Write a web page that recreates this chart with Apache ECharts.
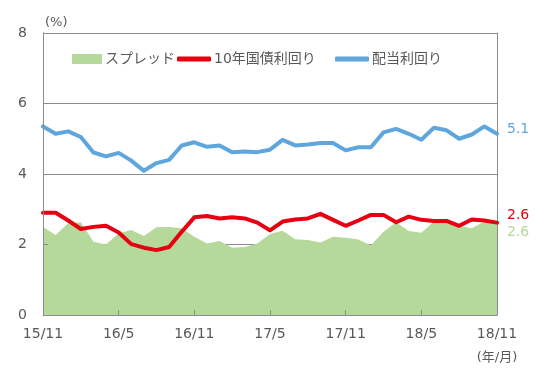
<!DOCTYPE html>
<html><head><meta charset="utf-8">
<script src="https://cdn.jsdelivr.net/npm/echarts@6/dist/echarts.min.js"></script>
<style>html,body{margin:0;padding:0;background:#fff}#c{width:544px;height:376px}</style>
</head><body><div id="c"></div>
<script>
var categories = ['15/11','15/12','16/1','16/2','16/3','16/4','16/5','16/6','16/7','16/8','16/9','16/10',
  '16/11','16/12','17/1','17/2','17/3','17/4','17/5','17/6','17/7','17/8','17/9','17/10',
  '17/11','17/12','18/1','18/2','18/3','18/4','18/5','18/6','18/7','18/8','18/9','18/10','18/11'];
var spread = [2.50,2.27,2.60,2.63,2.08,2.00,2.32,2.41,2.24,2.49,2.50,2.46,2.22,2.03,2.10,1.91,1.93,2.03,2.30,2.39,2.15,2.13,2.06,2.22,2.19,2.14,1.98,2.36,2.63,2.38,2.33,2.65,2.65,2.53,2.46,2.65,2.58];
var jgb10y = [2.90,2.90,2.68,2.44,2.50,2.53,2.34,2.01,1.91,1.84,1.93,2.36,2.77,2.81,2.74,2.77,2.74,2.62,2.40,2.65,2.71,2.74,2.87,2.70,2.53,2.68,2.84,2.84,2.63,2.79,2.70,2.67,2.67,2.53,2.71,2.68,2.62];
var dividend = [5.35,5.14,5.21,5.05,4.61,4.50,4.60,4.38,4.09,4.31,4.40,4.81,4.90,4.77,4.81,4.62,4.64,4.62,4.69,4.97,4.81,4.84,4.88,4.88,4.67,4.76,4.76,5.18,5.28,5.14,4.97,5.31,5.24,5.00,5.12,5.35,5.14];
var yTicks = [0, 2, 4, 6, 8];
var names = ['スプレッド', '10年国債利回り', '配当利回り'];

var FONT = "'DejaVu Sans', 'Noto Sans CJK JP', sans-serif";
var TXT = '#595959';
var GRID = '#8c8c8c';
var C_GREEN = '#b5d89b', C_RED = '#e60012', C_BLUE = '#5fa6dd';

function endLbl(color, dy) {
  return {
    show: true, color: color, fontSize: 14, fontFamily: FONT, distance: 10, offset: [0, dy],
    formatter: function (p) { return Number(p.value).toFixed(1); }
  };
}
function legendAt(left, name, icon, w, h) {
  return {
    left: left, top: 47, itemWidth: w, itemHeight: h, itemGap: 0,
    textStyle: {color: TXT, fontSize: 14, fontFamily: FONT, padding: [0, 0, 0, -2]},
    data: [{name: name, icon: icon}]
  };
}

var chart = echarts.init(document.getElementById('c'), null, {renderer: 'canvas'});
chart.setOption({
  animation: false,
  textStyle: {fontFamily: FONT},
  grid: {left: 43, right: 47, top: 33, bottom: 61, containLabel: false},
  legend: [
    legendAt(67, names[0], 'rect', 30, 10),
    legendAt(172, names[1], 'roundRect', 34, 5),
    legendAt(330, names[2], 'roundRect', 34, 5)
  ],
  xAxis: {
    type: 'category', data: categories, boundaryGap: false, z: 5,
    axisLine: {lineStyle: {color: GRID, width: 1}},
    axisTick: {show: true, inside: true, length: 5, interval: 5, lineStyle: {color: GRID}},
    axisLabel: {interval: 5, color: TXT, fontSize: 14, margin: 12, fontFamily: FONT},
    name: '(年/月)', nameLocation: 'end', nameGap: 0,
    nameTextStyle: {color: TXT, fontSize: 13, fontFamily: FONT, align: 'center', verticalAlign: 'top', padding: [36, 0, 0, 0]}
  },
  yAxis: [{
    type: 'value', min: 0, max: 8, interval: 2, position: 'left',
    axisLine: {show: true, lineStyle: {color: GRID}},
    axisTick: {show: false},
    splitLine: {show: true, lineStyle: {color: GRID, width: 1}},
    axisLabel: {color: TXT, fontSize: 14, margin: 16, fontFamily: FONT,
      customValues: yTicks},
    name: '(%)', nameLocation: 'end', nameGap: 4,
    nameTextStyle: {color: TXT, fontSize: 13, fontFamily: FONT, align: 'left', padding: [0, 0, 0, 2]}
  }, {
    type: 'value', min: 0, max: 8, interval: 2, position: 'right',
    axisLine: {show: true, lineStyle: {color: GRID}},
    axisTick: {show: false}, axisLabel: {show: false}, splitLine: {show: false}
  }, {
    type: 'value', min: 0, max: 8, interval: 2, position: 'left', z: 5,
    axisLine: {show: true, lineStyle: {color: GRID}},
    axisTick: {show: true, inside: true, length: 5, lineStyle: {color: GRID}},
    axisLabel: {show: false}, splitLine: {show: false}
  }],
  series: [{
    name: names[0], type: 'line', data: spread, symbol: 'none', z: 2,
    itemStyle: {color: C_GREEN},
    lineStyle: {width: 0, color: C_GREEN},
    areaStyle: {color: C_GREEN, opacity: 1},
    endLabel: endLbl(C_GREEN, 8)
  }, {
    name: names[1], type: 'line', data: jgb10y, symbol: 'none', z: 3,
    itemStyle: {color: C_RED},
    lineStyle: {width: 4, color: C_RED, cap: 'round', join: 'round'},
    endLabel: endLbl(C_RED, -7)
  }, {
    name: names[2], type: 'line', data: dividend, symbol: 'none', z: 3,
    itemStyle: {color: C_BLUE},
    lineStyle: {width: 4, color: C_BLUE, cap: 'round', join: 'round'},
    endLabel: endLbl(C_BLUE, -4)
  }]
});
</script></body></html>
